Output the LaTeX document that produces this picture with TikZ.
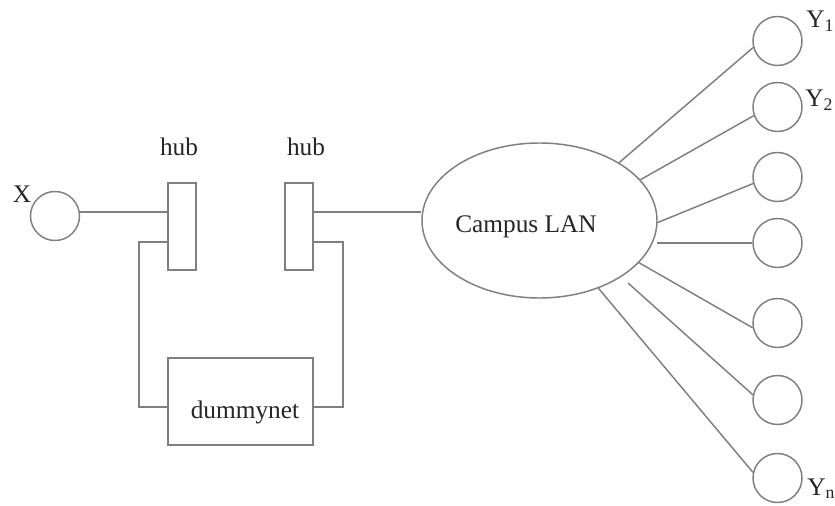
\documentclass[tikz,border=0pt]{standalone}
\usepackage{fontspec}
\setmainfont{Liberation Serif}
\usetikzlibrary{shapes.geometric}
\definecolor{linegray}{HTML}{7F7F7F}
\definecolor{textgray}{HTML}{262626}
\begin{document}
\begin{tikzpicture}[x=0.75pt,y=-0.75pt,
  wire/.style={draw=linegray, line width=1.1pt},
  host/.style={circle, draw=linegray, line width=1.1pt, minimum size=36.75pt, inner sep=0pt},
  hubbox/.style={rectangle, draw=linegray, line width=1.1pt, minimum width=21pt, minimum height=65.25pt, inner sep=0pt},
  lbl/.style={font=\fontsize{19}{23}\selectfont, text=textgray, inner sep=0pt, anchor=base}]
\useasboundingbox (0,0) rectangle (835,506);
\fill[white] (0,0) rectangle (835,506);

% hosts
\node[host] (X) at (55,216) {};
\node[host] (Y1) at (777.5,41) {};
\node[host] (Y2) at (777.5,107) {};
\node[host] (Y3) at (777.5,177) {};
\node[host] (Y4) at (777.5,243) {};
\node[host] (Y5) at (777.5,323) {};
\node[host] (Y6) at (777.5,400) {};
\node[host] (Y7) at (777.5,478) {};

% hubs, dummynet, LAN
\node[hubbox] (hub1) at (182,226.5) {};
\node[hubbox] (hub2) at (299,226.5) {};
\node[rectangle, draw=linegray, line width=1.1pt, minimum width=108.75pt, minimum height=65.25pt, inner sep=0pt] (dn) at (240.5,401.5) {};
\node[ellipse, draw=linegray, line width=1.1pt, minimum width=176.25pt, minimum height=116.25pt, inner sep=0pt] (lan) at (539.5,220.5) {};

% labels
\node[lbl] (lx) at (22,203) {X};
\node[lbl] (lh1) at (179,156) {hub};
\node[lbl] (lh2) at (306,156) {hub};
\node[lbl] (ldn) at (245,418) {dummynet};
\node[lbl] (llan) at (526,233) {Campus LAN};
\node[lbl, anchor=base west] (ly1) at (806,28) {Y\textsubscript{1}};
\node[lbl, anchor=base west] (ly2) at (805,107) {Y\textsubscript{2}};
\node[lbl, anchor=base west] (lyn) at (807,495) {Y\textsubscript{n}};

% connection points
\coordinate (h1in) at (168,212);
\coordinate (h1out) at (168,242);
\coordinate (dnin) at (168,407);
\coordinate (h2out) at (313,212);
\coordinate (h2b) at (313,242);
\coordinate (dnout) at (313,407);
\coordinate (s4) at (657,243);
\coordinate (s6) at (628,283);

% wires
\draw[wire] (X.east |- h1in) -- (h1in);
\draw[wire] (h1out) -- ++(-29,0) |- (dnin);
\draw[wire] (h2out) -- (h2out -| lan.west);
\draw[wire] (h2b) -- ++(30,0) |- (dnout);

\draw[wire] (lan.36.7) -- (Y1.195);
\draw[wire] (lan.22) -- (Y2.200);
\draw[wire] (lan.-1) -- (Y3.195);
\draw[wire, line width=1.8pt] (s4) -- (Y4.west);
\draw[wire] (lan.-23) -- (Y5.191);
\draw[wire] (s6) -- (Y6.168);
\draw[wire] (lan.-49) -- (Y7.167);
\end{tikzpicture}
\end{document}
